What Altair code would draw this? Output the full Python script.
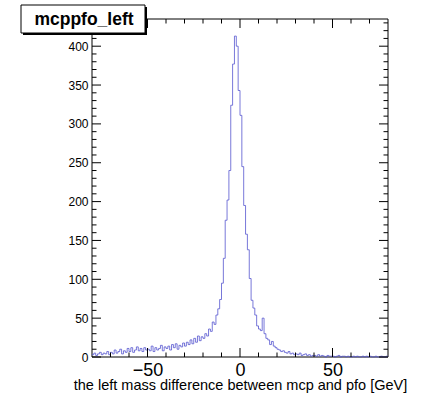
import altair as alt
import pandas as pd

# ---- data (1 GeV bins, -80..80) ----
bin_low = list(range(-80, 80))
counts = [
    3, 5, 2, 4, 6, 3, 5, 4, 7, 3,            # -80..-70
    6, 4, 9, 5, 7, 10, 4, 8, 6, 11,          # -70..-60
    7, 12, 6, 9, 13, 8, 11, 7, 12, 9,        # -60..-50
    10, 8, 14, 7, 12, 9, 11, 15, 8, 13,      # -50..-40
    11, 14, 9, 16, 12, 17, 10, 15, 13, 18,   # -40..-30
    14, 19, 16, 22, 17, 24, 19, 27, 21, 26,  # -30..-20
    24, 30, 27, 36, 33, 45, 42, 54, 62, 74,  # -20..-10
    95, 127, 176, 202, 240, 324, 377, 413, 400, 343,  # -10..0
    311, 245, 195, 158, 138, 101, 73, 63, 54, 40,     # 0..10
    36, 34, 50, 30, 24, 22, 16, 20, 14, 12,  # 10..20
    10, 9, 7, 8, 6, 5, 7, 4, 5, 3,           # 20..30
    4, 3, 5, 2, 3, 4, 2, 3, 1, 2,            # 30..40
    2, 1, 3, 1, 2, 1, 0, 2, 1, 1,            # 40..50
    1, 0, 1, 2, 0, 1, 1, 0, 1, 0,            # 50..60
    0, 1, 0, 1, 0, 0, 1, 0, 1, 0,            # 60..70
    1, 0, 0, 1, 0, 0, 1, 0, 0, 1,            # 70..80
]
x_min, x_max = -80, 80
y_max = 435
x_major = [-50, 0, 50]
x_minor = [v for v in range(-70, 80, 10) if v not in x_major]
y_major = list(range(0, 401, 50))
y_minor = [v for v in range(10, 431, 10) if v % 50 != 0]
title_text = "mcppfo_left"
x_title = "the left mass difference between mcp and pfo [GeV]"

W, H = 296, 338
FONT = "Liberation Sans"
LINE = "#5656cf"

hist = pd.DataFrame({"x": bin_low + [x_max], "y": counts + [counts[-1]]})

xscale = alt.Scale(domain=[x_min, x_max], nice=False, zero=False)
yscale = alt.Scale(domain=[0, y_max], nice=False, zero=False)
xaxis = alt.Axis(values=x_major, labelFontSize=18, labelFont=FONT, ticks=False,
                 domain=False, grid=False, labelPadding=4, labelColor="black",
                 labelOverlap=False, labelFlush=False, title=x_title,
                 titleFont=FONT, titleFontSize=14.5, titleFontWeight="normal",
                 titleColor="black", titleBaseline="alphabetic", titleY=32)
yaxis = alt.Axis(values=y_major, labelFontSize=12, labelFont=FONT, ticks=False,
                 domain=False, grid=False, labelPadding=4, labelColor="black",
                 labelOverlap=False, title=None)

X = lambda: alt.X("x:Q", scale=xscale, axis=xaxis)
Y = lambda: alt.Y("y:Q", scale=yscale, axis=yaxis)

one = alt.Data(values=[{"a": 1}])

frame = alt.Chart(one).mark_rect(fill="white", stroke="black", strokeWidth=1).encode(
    x=alt.value(0), x2=alt.value(W), y=alt.value(0), y2=alt.value(H))

line = alt.Chart(hist).mark_line(interpolate="step-after", color=LINE,
                                 strokeWidth=0.8).encode(x=X(), y=Y())

def yticks(vals, length, right):
    df = pd.DataFrame({"y": vals})
    x0 = W if right else 0
    x1 = W - length if right else length
    return alt.Chart(df).mark_rule(color="black", strokeWidth=1).encode(
        y=Y(), x=alt.value(x0), x2=alt.value(x1))

def xticks(vals, length, top):
    df = pd.DataFrame({"x": vals})
    y0 = 0 if top else H
    y1 = length if top else H - length
    return alt.Chart(df).mark_rule(color="black", strokeWidth=1).encode(
        x=X(), y=alt.value(y0), y2=alt.value(y1))

shadow = alt.Chart(one).mark_rect(fill="black").encode(
    x=alt.value(-69), x2=alt.value(55), y=alt.value(-12), y2=alt.value(16))
box = alt.Chart(one).mark_rect(fill="white", stroke="black", strokeWidth=1).encode(
    x=alt.value(-71), x2=alt.value(53), y=alt.value(-14), y2=alt.value(14))
ttl = alt.Chart(one).mark_text(text=title_text, font=FONT, fontSize=17.5,
                               fontWeight="bold", color="black",
                               align="center", baseline="middle").encode(
    x=alt.value(-8), y=alt.value(1))

chart = alt.layer(
    frame, line,
    yticks(y_major, 9, False), yticks(y_minor, 4.5, False),
    yticks(y_major, 9, True), yticks(y_minor, 4.5, True),
    xticks(x_major, 9, False), xticks(x_minor, 4.5, False),
    xticks(x_major, 9, True), xticks(x_minor, 4.5, True),
    shadow, box, ttl,
).properties(
    width=W, height=H,
    autosize=alt.AutoSizeParams(type="none"),
    padding={"left": 92, "top": 19, "right": 37, "bottom": 38},
    background="white",
).configure_view(stroke=None)

chart.save("out.html", embed_options={"renderer": "svg", "actions": False})
